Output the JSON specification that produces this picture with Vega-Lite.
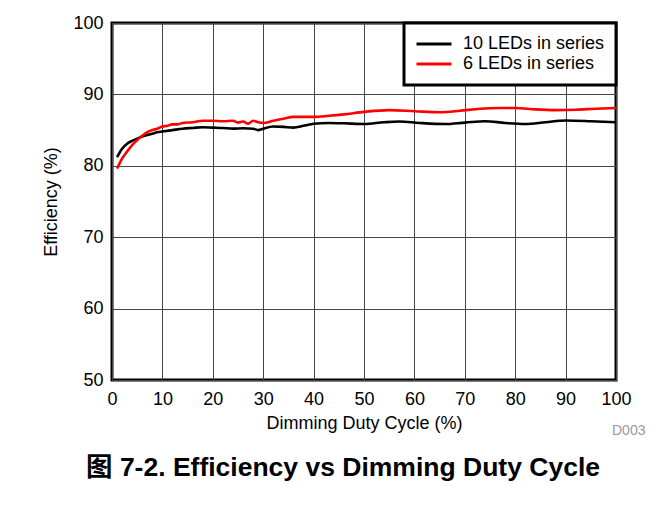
{
  "$schema": "https://vega.github.io/schema/vega-lite/v6.json",
  "autosize": "none",
  "width": 504,
  "height": 357,
  "padding": {"left": 112, "top": 23, "right": 51, "bottom": 144},
  "background": "white",
  "config": {
    "font": "Liberation Sans",
    "view": {"stroke": "black", "strokeWidth": 3},
    "axis": {
      "domain": false,
      "ticks": false,
      "tickSize": 0,
      "grid": true,
      "gridColor": "#444444",
      "gridWidth": 1,
      "gridOpacity": 1,
      "labelFont": "Liberation Sans",
      "labelFontSize": 18,
      "labelColor": "black",
      "titleFont": "Liberation Sans",
      "titleFontSize": 18,
      "titleFontWeight": "normal",
      "titleColor": "black"
    },
    "legend": {
      "orient": "top-right",
      "offset": 0,
      "title": null,
      "strokeColor": "black",
      "strokeWidth": 3,
      "fillColor": "white",
      "padding": 11,
      "labelFont": "Liberation Sans",
      "labelFontSize": 18,
      "labelColor": "black",
      "labelOffset": 10,
      "symbolType": "stroke",
      "symbolSize": 1225,
      "symbolStrokeWidth": 3,
      "clipHeight": 20,
      "rowPadding": 0
    }
  },
  "title": {
    "text": "图 7-2. Efficiency vs Dimming Duty Cycle",
    "orient": "bottom",
    "anchor": "middle",
    "font": "Liberation Sans, Noto Sans CJK SC",
    "fontSize": 26.5,
    "fontWeight": "bold",
    "color": "black",
    "offset": 17,
    "dx": -21
  },
  "datasets": {
    "curves": [
      {"duty": 1, "eff": 81.2, "series": "10 LEDs in series"},
      {"duty": 2, "eff": 82.4, "series": "10 LEDs in series"},
      {"duty": 3, "eff": 83.1, "series": "10 LEDs in series"},
      {"duty": 4, "eff": 83.5, "series": "10 LEDs in series"},
      {"duty": 5, "eff": 83.8, "series": "10 LEDs in series"},
      {"duty": 6, "eff": 84.1, "series": "10 LEDs in series"},
      {"duty": 7, "eff": 84.3, "series": "10 LEDs in series"},
      {"duty": 8, "eff": 84.5, "series": "10 LEDs in series"},
      {"duty": 9, "eff": 84.7, "series": "10 LEDs in series"},
      {"duty": 10, "eff": 84.8, "series": "10 LEDs in series"},
      {"duty": 12, "eff": 85.0, "series": "10 LEDs in series"},
      {"duty": 14, "eff": 85.2, "series": "10 LEDs in series"},
      {"duty": 16, "eff": 85.3, "series": "10 LEDs in series"},
      {"duty": 18, "eff": 85.4, "series": "10 LEDs in series"},
      {"duty": 20, "eff": 85.35, "series": "10 LEDs in series"},
      {"duty": 22, "eff": 85.3, "series": "10 LEDs in series"},
      {"duty": 24, "eff": 85.2, "series": "10 LEDs in series"},
      {"duty": 26, "eff": 85.25, "series": "10 LEDs in series"},
      {"duty": 28, "eff": 85.2, "series": "10 LEDs in series"},
      {"duty": 29, "eff": 85.0, "series": "10 LEDs in series"},
      {"duty": 30, "eff": 85.2, "series": "10 LEDs in series"},
      {"duty": 32, "eff": 85.5, "series": "10 LEDs in series"},
      {"duty": 34, "eff": 85.45, "series": "10 LEDs in series"},
      {"duty": 36, "eff": 85.35, "series": "10 LEDs in series"},
      {"duty": 38, "eff": 85.6, "series": "10 LEDs in series"},
      {"duty": 40, "eff": 85.9, "series": "10 LEDs in series"},
      {"duty": 43, "eff": 86.0, "series": "10 LEDs in series"},
      {"duty": 46, "eff": 85.95, "series": "10 LEDs in series"},
      {"duty": 50, "eff": 85.85, "series": "10 LEDs in series"},
      {"duty": 54, "eff": 86.1, "series": "10 LEDs in series"},
      {"duty": 57, "eff": 86.2, "series": "10 LEDs in series"},
      {"duty": 61, "eff": 86.0, "series": "10 LEDs in series"},
      {"duty": 66, "eff": 85.85, "series": "10 LEDs in series"},
      {"duty": 70, "eff": 86.05, "series": "10 LEDs in series"},
      {"duty": 74, "eff": 86.25, "series": "10 LEDs in series"},
      {"duty": 78, "eff": 86.0, "series": "10 LEDs in series"},
      {"duty": 82, "eff": 85.85, "series": "10 LEDs in series"},
      {"duty": 86, "eff": 86.1, "series": "10 LEDs in series"},
      {"duty": 90, "eff": 86.35, "series": "10 LEDs in series"},
      {"duty": 95, "eff": 86.25, "series": "10 LEDs in series"},
      {"duty": 100, "eff": 86.1, "series": "10 LEDs in series"},
      {"duty": 1, "eff": 79.6, "series": "6 LEDs in series"},
      {"duty": 2, "eff": 81.0, "series": "6 LEDs in series"},
      {"duty": 3, "eff": 82.0, "series": "6 LEDs in series"},
      {"duty": 4, "eff": 82.9, "series": "6 LEDs in series"},
      {"duty": 5, "eff": 83.6, "series": "6 LEDs in series"},
      {"duty": 6, "eff": 84.2, "series": "6 LEDs in series"},
      {"duty": 7, "eff": 84.7, "series": "6 LEDs in series"},
      {"duty": 8, "eff": 85.0, "series": "6 LEDs in series"},
      {"duty": 9, "eff": 85.2, "series": "6 LEDs in series"},
      {"duty": 10, "eff": 85.5, "series": "6 LEDs in series"},
      {"duty": 11, "eff": 85.6, "series": "6 LEDs in series"},
      {"duty": 12, "eff": 85.8, "series": "6 LEDs in series"},
      {"duty": 13, "eff": 85.8, "series": "6 LEDs in series"},
      {"duty": 14, "eff": 86.0, "series": "6 LEDs in series"},
      {"duty": 16, "eff": 86.1, "series": "6 LEDs in series"},
      {"duty": 18, "eff": 86.3, "series": "6 LEDs in series"},
      {"duty": 20, "eff": 86.3, "series": "6 LEDs in series"},
      {"duty": 22, "eff": 86.25, "series": "6 LEDs in series"},
      {"duty": 24, "eff": 86.3, "series": "6 LEDs in series"},
      {"duty": 25, "eff": 86.05, "series": "6 LEDs in series"},
      {"duty": 26, "eff": 86.2, "series": "6 LEDs in series"},
      {"duty": 27, "eff": 85.9, "series": "6 LEDs in series"},
      {"duty": 28, "eff": 86.3, "series": "6 LEDs in series"},
      {"duty": 29, "eff": 86.1, "series": "6 LEDs in series"},
      {"duty": 30, "eff": 86.0, "series": "6 LEDs in series"},
      {"duty": 32, "eff": 86.3, "series": "6 LEDs in series"},
      {"duty": 34, "eff": 86.6, "series": "6 LEDs in series"},
      {"duty": 36, "eff": 86.85, "series": "6 LEDs in series"},
      {"duty": 38, "eff": 86.85, "series": "6 LEDs in series"},
      {"duty": 40, "eff": 86.85, "series": "6 LEDs in series"},
      {"duty": 43, "eff": 87.0, "series": "6 LEDs in series"},
      {"duty": 46, "eff": 87.2, "series": "6 LEDs in series"},
      {"duty": 50, "eff": 87.55, "series": "6 LEDs in series"},
      {"duty": 55, "eff": 87.8, "series": "6 LEDs in series"},
      {"duty": 60, "eff": 87.65, "series": "6 LEDs in series"},
      {"duty": 65, "eff": 87.5, "series": "6 LEDs in series"},
      {"duty": 69, "eff": 87.7, "series": "6 LEDs in series"},
      {"duty": 73, "eff": 88.0, "series": "6 LEDs in series"},
      {"duty": 77, "eff": 88.1, "series": "6 LEDs in series"},
      {"duty": 80, "eff": 88.1, "series": "6 LEDs in series"},
      {"duty": 84, "eff": 87.9, "series": "6 LEDs in series"},
      {"duty": 88, "eff": 87.8, "series": "6 LEDs in series"},
      {"duty": 92, "eff": 87.85, "series": "6 LEDs in series"},
      {"duty": 96, "eff": 88.0, "series": "6 LEDs in series"},
      {"duty": 100, "eff": 88.1, "series": "6 LEDs in series"}
    ],
    "note": [{"label": "D003", "duty": 100, "eff": 50}]
  },
  "layer": [
    {
      "data": {"name": "curves"},
      "mark": {"type": "line", "strokeWidth": 2.6, "interpolate": "monotone"},
      "encoding": {
        "x": {
          "field": "duty", "type": "quantitative",
          "scale": {"domain": [0, 100], "nice": false, "zero": false},
          "axis": {"values": [0,10,20,30,40,50,60,70,80,90,100], "title": "Dimming Duty Cycle (%)", "labelPadding": 10, "titlePadding": 6, "labelFlush": false}
        },
        "y": {
          "field": "eff", "type": "quantitative",
          "scale": {"domain": [50, 100], "nice": false, "zero": false},
          "axis": {"values": [50,60,70,80,90,100], "title": "Efficiency (%)", "labelPadding": 9, "titlePadding": 12}
        },
        "color": {
          "field": "series", "type": "nominal",
          "scale": {"domain": ["10 LEDs in series", "6 LEDs in series"], "range": ["#000000", "#ff0000"]},
          "legend": {"title": null}
        }
      }
    },
    {
      "data": {"name": "note"},
      "mark": {"type": "text", "align": "left", "baseline": "middle", "dx": -4, "dy": 51, "fontSize": 14, "color": "#999999", "font": "Liberation Sans"},
      "encoding": {
        "x": {"field": "duty", "type": "quantitative"},
        "y": {"field": "eff", "type": "quantitative"},
        "text": {"field": "label"}
      }
    }
  ]
}
